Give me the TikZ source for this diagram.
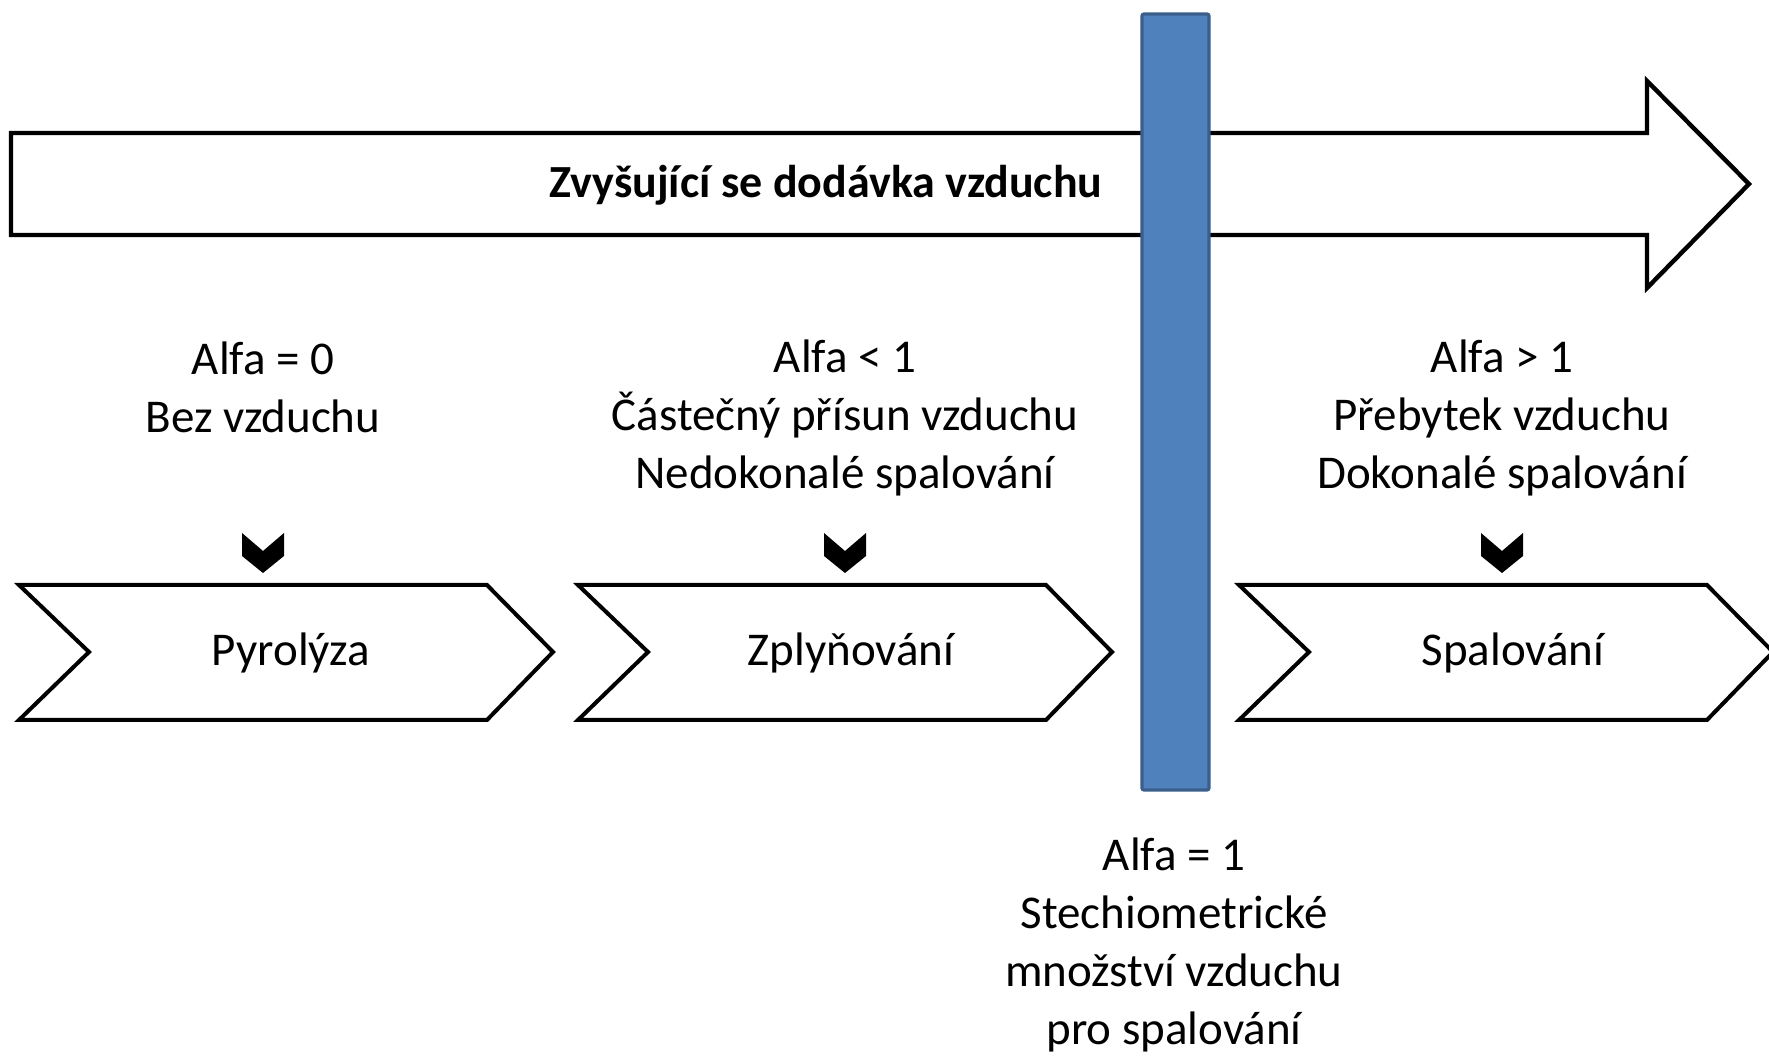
\documentclass[tikz,border=0pt]{standalone}
\usepackage{fontspec}
\setmainfont{Carlito}
\definecolor{barfill}{HTML}{4F81BD}
\definecolor{barline}{HTML}{3A5F8C}
\begin{document}
\begin{tikzpicture}[x=0.5pt,y=-0.5pt,
  outline/.style={draw=black,line width=2.2pt,fill=white,line join=miter},
  chev/.style={draw=black,line width=2pt,fill=white,line join=miter},
  downmark/.style={fill=black,draw=none},
  lbl/.style={font=\fontsize{23.5}{29}\selectfont,align=center,inner sep=0pt},
  ttl/.style={font=\fontsize{23}{28}\selectfont\bfseries,inner sep=0pt}]
\useasboundingbox (0,0) rectangle (1769,1058);
% big arrow
\draw[outline] (11,133) -- (1647,133) -- (1647,81) -- (1749,184) -- (1647,288) -- (1647,235) -- (11,235) -- cycle;
\node[ttl] (title) at (826,185) {Zvyšující se dodávka vzduchu};
% stage chevrons
\foreach \x in {19,578,1239}{
  \draw[chev] (\x,585) -- ({\x+468},585) -- ({\x+534},652) -- ({\x+468},720) -- (\x,720) -- ({\x+70},652) -- cycle;
}
% small down markers
\foreach \c in {263,845,1502}{
  \fill[downmark] ({\c-21},533) -- (\c,551) -- ({\c+21},533) -- ({\c+21},556) -- (\c,573) -- ({\c-21},556) -- cycle;
}
% blue bar
\draw[fill=barfill,draw=barline,line width=1.6pt,rounded corners=1pt] (1142,14) rectangle (1209,790);
% labels
\node[lbl] (pyr) at (291,653) {Pyrolýza};
\node[lbl] (zpl) at (851,653) {Zplyňování};
\node[lbl] (spa) at (1513,653) {Spalování};
\node[lbl] (a0) at (263,387) {Alfa = 0\\Bez vzduchu};
\node[lbl] (a1) at (845,418) {Alfa < 1\\Částečný přísun vzduchu\\Nedokonalé spalování};
\node[lbl] (a2) at (1502,418) {Alfa > 1\\Přebytek vzduchu\\Dokonalé spalování};
\node[lbl] (aeq) at (1174,945) {Alfa = 1\\Stechiometrické\\množství vzduchu\\pro spalování};
\end{tikzpicture}
\end{document}
